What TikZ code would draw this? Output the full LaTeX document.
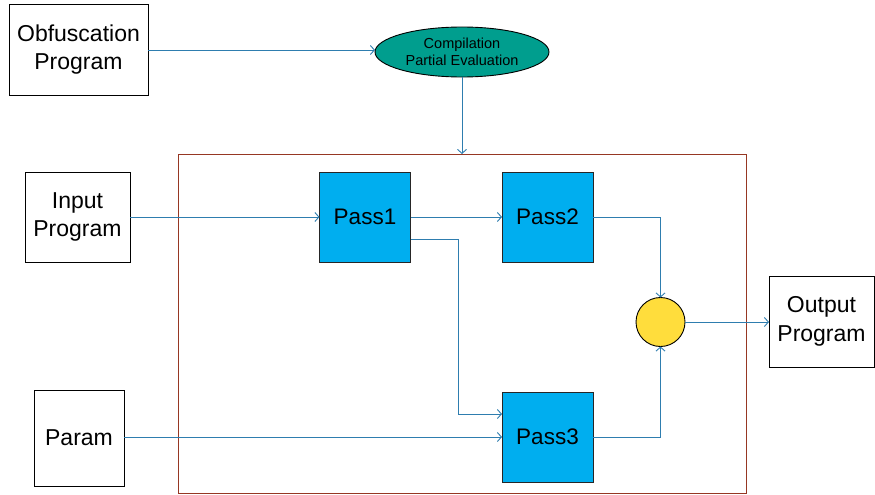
\documentclass[tikz,border=0pt]{standalone}
\usepackage{fontspec}
\setmainfont{Liberation Sans}
\usetikzlibrary{arrows.meta,shapes.geometric}
\definecolor{linkblue}{RGB}{46,125,175}
\definecolor{passblue}{RGB}{0,174,239}
\definecolor{frame}{RGB}{150,55,35}
\definecolor{teal}{RGB}{0,158,142}
\definecolor{sun}{RGB}{255,221,60}
\begin{document}
\begin{tikzpicture}[x=1pt,y=-1pt,
  every node/.style={inner sep=0pt,outer sep=0pt},
  iobox/.style={draw=black,line width=0.9pt,fill=white,align=center,
    font=\fontsize{23}{28.5}\selectfont},
  passbox/.style={draw=black!85,line width=0.9pt,fill=passblue,
    minimum width=91pt,minimum height=90pt,font=\fontsize{22.5}{28}\selectfont},
  link/.style={draw=linkblue,line width=0.9pt,-{Straight Barb[length=4pt,width=9pt]}}]
\useasboundingbox (0,0) rectangle (875,495);

% container frame
\draw[frame,line width=0.9pt] (178,154) rectangle (746,493);

% outer program boxes
\node[iobox,minimum width=139pt,minimum height=91pt] (obf) at (78.5,49.5) {Obfuscation\\Program};
\node[iobox,minimum width=105pt,minimum height=90pt] (inp) at (77.5,217) {Input\\Program};
\node[iobox,minimum width=90pt,minimum height=96pt] (par) at (79,438) {Param};
\node[iobox,minimum width=105pt,minimum height=91pt] (out) at (821.5,321.5) {Output\\Program};

% compiler stage
\node[ellipse,draw=black,line width=0.9pt,fill=teal,minimum width=174pt,minimum height=50pt,
  align=center,font=\fontsize{14.5}{17}\selectfont] (comp) at (462,52) {Compilation\\Partial Evaluation};
\coordinate (top) at (462,154);

% passes
\node[passbox] (p1) at (365,217) {Pass1};
\node[passbox] (p2) at (547.5,217) {Pass2};
\node[passbox] (p3) at (547.5,437) {Pass3};

% merge point
\node[circle,draw=black,line width=0.9pt,fill=sun,minimum size=49pt] (mix) at (660.5,322) {};

% connectors
\draw[link] (obf.east |- 0,50) -- (comp.west |- 0,50);
\draw[link] (comp.south) -- (top);
\draw[link] (inp.east) -- (p1.west);
\draw[link] (p1.east) -- (p2.west);
\draw[link] (p1.east |- 0,239) -| (458,414) -- (p3.west |- 0,414);
\draw[link] (par.east |- 0,437) -- (p3.west);
\draw[link] (p2.east) -| (mix.north);
\draw[link] (p3.east) -| (mix.south);
\draw[link] (mix.east) -- (out.west |- mix.east);
\end{tikzpicture}
\end{document}
